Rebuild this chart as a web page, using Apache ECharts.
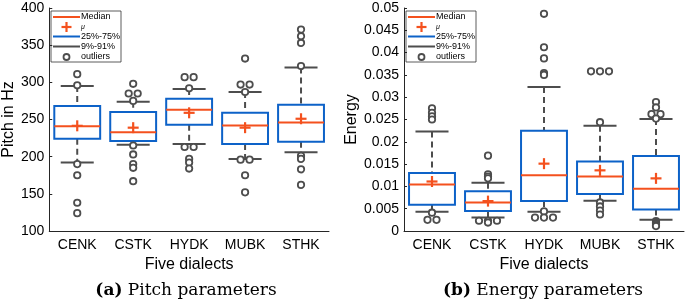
<!DOCTYPE html>
<html><head><meta charset="utf-8">
<script src="https://cdn.jsdelivr.net/npm/echarts@6/dist/echarts.min.js"></script>
<style>html,body{margin:0;padding:0;background:#fff}#c{width:685px;height:301px}</style>
</head><body><div id="c"></div>
<script>
// ---------- data ----------
const categories = ['CENK', 'CSTK', 'HYDK', 'MUBK', 'STHK'];

const pitchQ1     = [224, 221, 243, 217, 220];
const pitchQ3     = [268, 260, 278, 259, 270];
const pitchMedian = [241, 233, 263, 242, 246];
const pitchMean   = [241.5, 239, 259, 239, 251];
const pitchLow    = [192, 216, 217, 197, 206];
const pitchHigh   = [295, 274, 291, 287, 320];
const pitchOutliers = [
  [311, 296, 190, 175, 138, 124],
  [298, 285, 285, 275, 215, 203, 190, 185, 167],
  [307, 307, 292, 213, 213, 197, 192, 184],
  [332, 297, 297, 287, 196, 196, 175, 152],
  [371, 362, 353, 322, 201, 197, 183, 162]
];
const pitchTicks = [100, 400, 50];

const energyQ1     = [0.0059, 0.0045, 0.0067, 0.0083, 0.0048];
const energyQ3     = [0.0130, 0.0089, 0.0225, 0.0156, 0.0168];
const energyMedian = [0.0104, 0.0064, 0.0125, 0.0122, 0.0095];
const energyMean   = [0.0111, 0.0067, 0.0151, 0.0136, 0.0118];
const energyLow    = [0.0043, 0.0030, 0.0043, 0.0068, 0.0025];
const energyHigh   = [0.0223, 0.0108, 0.0323, 0.0236, 0.0251];
const energyOutliers = [
  [0.0275, 0.0265, 0.0257, 0.0250, 0.0041, 0.0025, 0.0025],
  [0.0169, 0.0127, 0.0122, 0.0118, 0.0023, 0.0023, 0.0023, 0.0019],
  [0.0487, 0.0412, 0.0387, 0.0354, 0.0350, 0.0044, 0.0030, 0.0030, 0.0030],
  [0.0358, 0.0358, 0.0358, 0.0244, 0.0064, 0.0055, 0.0046, 0.0037],
  [0.0289, 0.0277, 0.0262, 0.0262, 0.0252, 0.0022, 0.0019, 0.0016, 0.0013, 0.0011]
];
const energyTicks = [0, 0.05, 0.005];

const legendNames = ['Median', 'μ', '25%-75%', '9%-91%', 'outliers'];

// ---------- style ----------
const BLUE = '#0d62c8', ORANGE = '#f4511e', GRAY = '#4d4d4d', AXIS = '#262626';
const FONT = 'Liberation Sans, Arial, sans-serif';
const BOX_FRAC = 0.82, CAP_FRAC = 0.59, TIE_PX = 9;

function boxSeries(xi, q1, q3) {
  return {
    type: 'custom', name: legendNames[2], xAxisIndex: xi, yAxisIndex: xi, z: 3,
    itemStyle: { color: BLUE },
    data: categories.map((c, i) => [i, q1[i], q3[i]]),
    encode: { x: 0, y: [1, 2] },
    renderItem: (p, api) => {
      const x = api.value(0), bw = api.size([1, 0])[0] * BOX_FRAC;
      const a = api.coord([x, api.value(2)]), b = api.coord([x, api.value(1)]);
      return { type: 'rect', shape: { x: a[0] - bw / 2, y: a[1], width: bw, height: b[1] - a[1] },
               style: { fill: 'none', stroke: BLUE, lineWidth: 2 } };
    }
  };
}
function whiskerSeries(xi, low, q1, q3, high) {
  return {
    type: 'custom', name: legendNames[3], xAxisIndex: xi, yAxisIndex: xi, z: 2,
    itemStyle: { color: GRAY },
    data: categories.map((c, i) => [i, low[i], q1[i], q3[i], high[i]]),
    encode: { x: 0, y: [1, 2, 3, 4] },
    renderItem: (p, api) => {
      const x = api.value(0), cw = api.size([1, 0])[0] * CAP_FRAC;
      const lo = api.coord([x, api.value(1)]), b1 = api.coord([x, api.value(2)]);
      const b3 = api.coord([x, api.value(3)]), hi = api.coord([x, api.value(4)]);
      const dash = { stroke: GRAY, lineWidth: 2, lineDash: [6, 4] };
      const solid = { stroke: GRAY, lineWidth: 2 };
      return { type: 'group', children: [
        { type: 'line', shape: { x1: hi[0], y1: hi[1], x2: b3[0], y2: b3[1] }, style: dash },
        { type: 'line', shape: { x1: b1[0], y1: b1[1], x2: lo[0], y2: lo[1] }, style: dash },
        { type: 'line', shape: { x1: hi[0] - cw / 2, y1: hi[1], x2: hi[0] + cw / 2, y2: hi[1] }, style: solid },
        { type: 'line', shape: { x1: lo[0] - cw / 2, y1: lo[1], x2: lo[0] + cw / 2, y2: lo[1] }, style: solid }
      ] };
    }
  };
}
function medianSeries(xi, med) {
  return {
    type: 'custom', name: legendNames[0], xAxisIndex: xi, yAxisIndex: xi, z: 4,
    itemStyle: { color: ORANGE },
    data: categories.map((c, i) => [i, med[i]]),
    encode: { x: 0, y: 1 },
    renderItem: (p, api) => {
      const x = api.value(0), bw = api.size([1, 0])[0] * BOX_FRAC;
      const m = api.coord([x, api.value(1)]);
      return { type: 'line', shape: { x1: m[0] - bw / 2, y1: m[1], x2: m[0] + bw / 2, y2: m[1] },
               style: { stroke: ORANGE, lineWidth: 2 } };
    }
  };
}
function meanSeries(xi, mean) {
  return {
    type: 'custom', name: legendNames[1], xAxisIndex: xi, yAxisIndex: xi, z: 5,
    itemStyle: { color: ORANGE },
    data: categories.map((c, i) => [i, mean[i]]),
    encode: { x: 0, y: 1 },
    renderItem: (p, api) => {
      const c = api.coord([api.value(0), api.value(1)]), h = 5.5;
      const st = { stroke: ORANGE, lineWidth: 2.2 };
      return { type: 'group', children: [
        { type: 'line', shape: { x1: c[0] - h, y1: c[1], x2: c[0] + h, y2: c[1] }, style: st },
        { type: 'line', shape: { x1: c[0], y1: c[1] - h, x2: c[0], y2: c[1] + h }, style: st }
      ] };
    }
  };
}
function outlierData(lists) {
  const out = [];
  lists.forEach((vals, i) => {
    const counts = {}, seen = {};
    vals.forEach(v => counts[v] = (counts[v] || 0) + 1);
    vals.forEach(v => { const k = seen[v] || 0; seen[v] = k + 1; out.push([i, v, k - (counts[v] - 1) / 2]); });
  });
  return out;
}
function outlierSeries(xi, lists) {
  return {
    type: 'custom', name: legendNames[4], xAxisIndex: xi, yAxisIndex: xi, z: 6,
    itemStyle: { color: GRAY },
    data: outlierData(lists),
    encode: { x: 0, y: 1 },
    renderItem: (p, api) => {
      const c = api.coord([api.value(0), api.value(1)]);
      return { type: 'circle', shape: { cx: c[0] + api.value(2) * TIE_PX, cy: c[1], r: 3.2 },
               style: { fill: '#fff', stroke: GRAY, lineWidth: 1.8 } };
    }
  };
}

function xAxis(gi) {
  return {
    type: 'category', gridIndex: gi, data: categories, boundaryGap: true,
    name: 'Five dialects', nameLocation: 'middle', nameGap: 25,
    nameTextStyle: { fontSize: 16, color: '#000', fontFamily: FONT },
    axisLine: { lineStyle: { color: AXIS, width: 1 } },
    axisTick: { alignWithLabel: true, inside: true, length: 4, lineStyle: { color: AXIS } },
    axisLabel: { fontSize: 14, color: '#000', fontFamily: FONT, margin: 7 },
    splitLine: { show: false }
  };
}
function yAxis(gi, name, ticks, gap) {
  return {
    type: 'value', gridIndex: gi, min: ticks[0], max: ticks[1], interval: ticks[2],
    name, nameLocation: 'middle', nameGap: gap,
    nameTextStyle: { fontSize: 16, color: '#000', fontFamily: FONT },
    axisLine: { show: true, lineStyle: { color: AXIS, width: 1 } },
    axisTick: { show: true, inside: true, length: 3, lineStyle: { color: AXIS } },
    axisLabel: { fontSize: 14, color: '#000', fontFamily: FONT, margin: 5 },
    splitLine: { show: false }
  };
}

// legend box drawn as a graphic group (MATLAB-style layout)
function legendBox(x0) {
  const rows = [17, 27, 36.5, 46.5, 57];
  const ix1 = 2, ix2 = 29, icx = 15.5, tx = 30;
  const txt = (i, y, extra) => ({ type: 'text', x: tx, y,
    style: Object.assign({ text: legendNames[i], font: '9px ' + FONT, fill: '#000', verticalAlign: 'middle' }, extra || {}) });
  const ln = (y, c) => ({ type: 'line', shape: { x1: ix1, y1: y, x2: ix2, y2: y }, style: { stroke: c, lineWidth: 2 } });
  return {
    type: 'group', x: x0, y: 0, z: 100, children: [
      { type: 'rect', shape: { x: 0, y: 11, width: 70, height: 51 }, style: { fill: '#fff', stroke: '#333', lineWidth: 0.8 } },
      ln(rows[0], ORANGE), txt(0, rows[0]),
      { type: 'line', shape: { x1: icx - 5, y1: rows[1], x2: icx + 5, y2: rows[1] }, style: { stroke: ORANGE, lineWidth: 2.2 } },
      { type: 'line', shape: { x1: icx, y1: rows[1] - 5, x2: icx, y2: rows[1] + 5 }, style: { stroke: ORANGE, lineWidth: 2.2 } },
      txt(1, rows[1], { font: 'italic 7px ' + FONT }),
      ln(rows[2], BLUE), txt(2, rows[2]),
      ln(rows[3], GRAY), txt(3, rows[3]),
      { type: 'circle', shape: { cx: icx, cy: rows[4], r: 3 }, style: { fill: '#fff', stroke: GRAY, lineWidth: 1.8 } },
      txt(4, rows[4])
    ]
  };
}

const chart = echarts.init(document.getElementById('c'), null, { renderer: 'canvas' });
chart.setOption({
  animation: false,
  grid: [
    { left: 49, top: 8, width: 280, height: 223 },
    { left: 404, top: 8, width: 280, height: 223 }
  ],
  xAxis: [xAxis(0), xAxis(1)],
  yAxis: [yAxis(0, 'Pitch in Hz', pitchTicks, 27), yAxis(1, 'Energy', energyTicks, 44)],
  series: [
    whiskerSeries(0, pitchLow, pitchQ1, pitchQ3, pitchHigh),
    boxSeries(0, pitchQ1, pitchQ3),
    medianSeries(0, pitchMedian),
    meanSeries(0, pitchMean),
    outlierSeries(0, pitchOutliers),
    whiskerSeries(1, energyLow, energyQ1, energyQ3, energyHigh),
    boxSeries(1, energyQ1, energyQ3),
    medianSeries(1, energyMedian),
    meanSeries(1, energyMean),
    outlierSeries(1, energyOutliers)
  ],
  graphic: [
    legendBox(51),
    legendBox(406),
    { type: 'text', x: 186, y: 291, style: { text: '{b|(a)} Pitch parameters', align: 'center', verticalAlign: 'middle',
      font: '17px "DejaVu Serif", serif', fill: '#000', rich: { b: { fontWeight: 'bold', fontSize: 17, fontFamily: 'DejaVu Serif' } } } },
    { type: 'text', x: 543, y: 291, style: { text: '{b|(b)} Energy parameters', align: 'center', verticalAlign: 'middle',
      font: '17px "DejaVu Serif", serif', fill: '#000', rich: { b: { fontWeight: 'bold', fontSize: 17, fontFamily: 'DejaVu Serif' } } } }
  ]
});
</script></body></html>
